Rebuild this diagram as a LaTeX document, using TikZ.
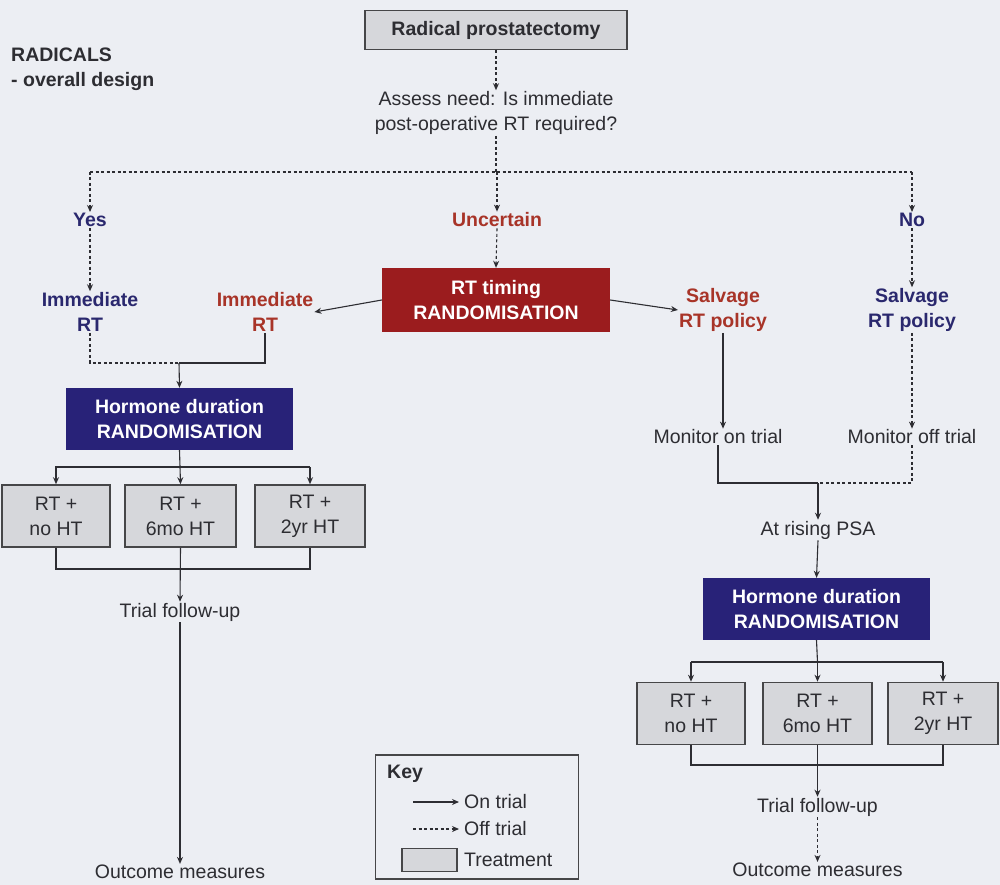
\documentclass[tikz,border=0pt]{standalone}
\usepackage{fontspec}
\setmainfont{Liberation Sans}
\usetikzlibrary{arrows.meta,calc}
\definecolor{bg}{RGB}{236,238,243}
\definecolor{txt}{RGB}{45,45,50}
\definecolor{redtxt}{RGB}{168,52,40}
\definecolor{navytxt}{RGB}{42,40,110}
\definecolor{redbox}{RGB}{155,28,30}
\definecolor{navybox}{RGB}{40,34,120}
\definecolor{grayfill}{RGB}{214,215,219}
\definecolor{grayline}{RGB}{70,70,72}
\tikzset{
  lbl/.style={font=\fontsize{19.5}{25}\selectfont, text=txt, align=center, inner sep=1pt},
  blbl/.style={lbl, font=\fontsize{19.5}{25}\selectfont\bfseries},
  redlbl/.style={blbl, text=redtxt},
  navylbl/.style={blbl, text=navytxt},
  treat/.style={lbl, draw=grayline, fill=grayfill, line width=1.6pt, minimum height=62pt},
  randred/.style={blbl, text=white, fill=redbox, minimum width=228pt, minimum height=64pt},
  randnavy/.style={blbl, text=white, fill=navybox, minimum width=227pt, minimum height=62pt},
  ln/.style={draw=txt, line width=1.1pt},
  arr/.style={ln, -{Stealth[length=7pt,width=6pt]}},
  dsh/.style={ln, dash pattern=on 3pt off 2.5pt},
  darr/.style={dsh, -{Stealth[length=7pt,width=6pt]}},
}
\begin{document}
\begin{tikzpicture}[x=1pt,y=-1pt]
\fill[bg] (0,0) rectangle (1000,885);
\useasboundingbox (0,0) rectangle (1000,885);

% title
\node[blbl, anchor=north west, align=left] (title) at (10,47) {RADICALS\\- overall design};

% top
\node[blbl, draw=grayline, fill=grayfill, line width=1.6pt, minimum width=262pt, minimum height=39pt] (rp) at (496,30) {Radical prostatectomy};
\node[lbl] (assess) at (496,113) {Assess need: Is immediate\\post-operative RT required?};
\draw[darr] (rp.south) -- (assess.north);

\coordinate (top) at (496,172);
\node[navylbl] (yes) at (90,220) {Yes};
\node[redlbl] (unc) at (497,220) {Uncertain};
\node[navylbl] (no) at (912,220) {No};
\draw[dsh] (assess.south) -- (top);
\draw[dsh] (top -| yes) -- (top -| no);
\draw[darr] (top -| yes) -- (yes.north);
\draw[darr] (top -| unc) -- (unc.north);
\draw[darr] (top -| no) -- (no.north);

\node[randred] (rtr) at (496,300) {RT timing\\RANDOMISATION};
\draw[darr] (unc.south) -- (rtr.north);

\node[navylbl] (imm1) at (90,312) {Immediate\\RT};
\node[redlbl] (imm2) at (265,312) {Immediate\\RT};
\node[redlbl] (salv1) at (723,310) {Salvage\\RT policy};
\node[navylbl] (salv2) at (912,310) {Salvage\\RT policy};
\draw[darr] (yes.south) -- (imm1.north);
\draw[darr] (no.south) -- (salv2.north);
\draw[arr] (rtr.west) -- (imm2.east);
\draw[arr] (rtr.east) -- (salv1.west);

% left branch
\node[randnavy] (hl) at (179.5,419) {Hormone duration\\RANDOMISATION};
\coordinate (jl) at (179,363);
\draw[dsh] (imm1.south) |- (jl);
\draw[ln] (imm2.south) |- (jl);
\draw[arr] (jl) -- (hl.north);

\node[treat, minimum width=108pt] (l1) at (56,516) {RT +\\no HT};
\node[treat, minimum width=111pt] (l2) at (180.5,516) {RT +\\6mo HT};
\node[treat, minimum width=110pt] (l3) at (310,516) {RT +\\2yr HT};
\coordinate (bl) at (180,467);
\draw[ln] (hl.south) -- (bl);
\draw[ln] (55,467) -- (310,467);
\draw[arr] (l1.north |- bl) -- (l1.north);
\draw[arr] (bl) -- (l2.north);
\draw[arr] (l3.north |- bl) -- (l3.north);

\node[lbl] (fu1) at (180,612) {Trial follow-up};
\coordinate (cl) at (180,569);
\draw[ln] (l1.south) |- (cl);
\draw[ln] (l3.south) |- (cl);
\draw[arr] (l2.south) -- (fu1.north);
\node[lbl] (out1) at (180,872) {Outcome measures};
\draw[arr] (fu1.south) -- (out1.north);

% right branch
\node[lbl] (mon1) at (718,437) {Monitor on trial};
\node[lbl] (mon2) at (912,437) {Monitor off trial};
\draw[arr] (salv1.south) -- (mon1.north -| salv1.south);
\draw[darr] (salv2.south) -- (mon2.north);
\coordinate (jr) at (818,483);
\draw[ln] (mon1.south) |- (jr);
\draw[dsh] (mon2.south) |- (jr);
\node[lbl] (psa) at (818,530) {At rising PSA};
\draw[arr] (jr) -- (psa.north);
\node[randnavy] (hr) at (816.5,609) {Hormone duration\\RANDOMISATION};
\draw[arr] (psa.south) -- (hr.north);

\node[treat, minimum width=108pt] (r1) at (691,713.5) {RT +\\no HT};
\node[treat, minimum width=109pt] (r2) at (817.5,713.5) {RT +\\6mo HT};
\node[treat, minimum width=110pt] (r3) at (943,713.5) {RT +\\2yr HT};
\coordinate (br) at (817.5,662);
\draw[ln] (hr.south) -- (br);
\draw[ln] (r1.north |- br) -- (r3.north |- br);
\draw[arr] (r1.north |- br) -- (r1.north);
\draw[arr] (br) -- (r2.north);
\draw[arr] (r3.north |- br) -- (r3.north);

\node[lbl] (fu2) at (817.5,807) {Trial follow-up};
\coordinate (cr) at (817.5,765);
\draw[ln] (r1.south) |- (cr);
\draw[ln] (r3.south) |- (cr);
\draw[arr] (r2.south) -- (fu2.north);
\node[lbl] (out2) at (817.5,870) {Outcome measures};
\draw[darr] (fu2.south) -- (out2.north);

% key
\node[draw=grayline, line width=1.4pt, fill=bg, minimum width=203pt, minimum height=124pt] (key) at (477,817) {};
\node[blbl, anchor=west] (keyt) at (386,774) {Key};
\node[lbl, anchor=west] (kon) at (463,802) {On trial};
\node[lbl, anchor=west] (koff) at (463,829) {Off trial};
\node[lbl, anchor=west] (ktr) at (463,860) {Treatment};
\coordinate (kon0) at (413,802);
\coordinate (koff0) at (413,829);
\draw[arr, shorten >=4pt] (kon0) -- (kon.west);
\draw[darr, shorten >=4pt] (koff0) -- (koff.west);
\node[draw=grayline, fill=grayfill, line width=1.4pt, minimum width=55pt, minimum height=23pt, inner sep=0pt] (ksw) at (429.5,860) {};
\end{tikzpicture}
\end{document}
